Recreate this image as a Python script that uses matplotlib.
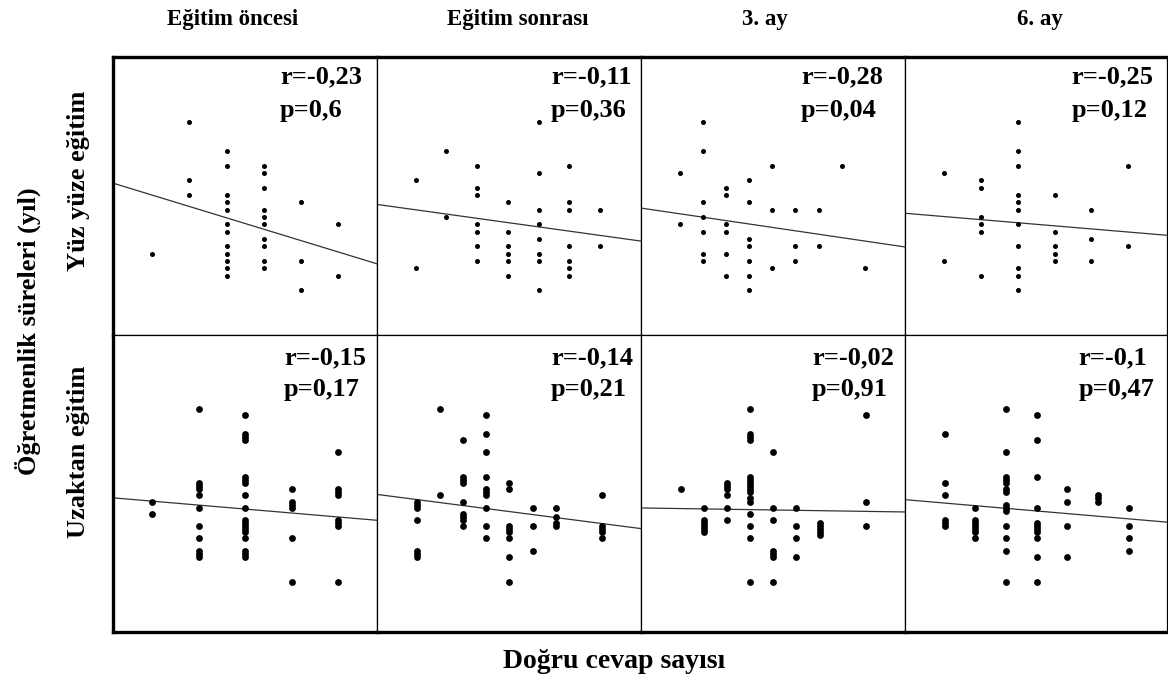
import numpy as np
import matplotlib
matplotlib.use("Agg")
import matplotlib.pyplot as plt

plt.rcParams["font.family"] = ["Liberation Serif", "DejaVu Serif"]
plt.rcParams["font.weight"] = "bold"

COL_TITLES = ["Eğitim öncesi", "Eğitim sonrası", "3. ay", "6. ay"]
ROW_TITLES = ["Yüz yüze eğitim", "Uzaktan eğitim"]
Y_LABEL = "Öğretmenlik süreleri (yıl)"
X_LABEL = "Doğru cevap sayısı"

# each panel: one list of y values per answer-count column (columns 1..n)
yuz_oncesi = [[7], [25, 17, 15], [21, 19, 15, 14, 13, 11, 10, 8, 7, 6, 5, 4],
              [19, 18, 16, 13, 12, 11, 9, 8, 6, 5], [14, 6, 2], [11, 4]]
yuz_sonrasi = [[17, 5], [21, 12], [19, 16, 15, 11, 10, 8, 6], [14, 10, 8, 7, 6, 4],
               [25, 18, 13, 11, 9, 7, 6, 2], [19, 14, 13, 8, 6, 5, 4], [13, 8]]
yuz_3ay = [[18, 11], [25, 21, 14, 12, 10, 7, 6], [16, 15, 11, 10, 7, 4],
           [17, 14, 9, 8, 6, 4, 2], [19, 13, 5], [13, 8, 6], [13, 8], [19], [5]]
yuz_6ay = [[18, 6], [17, 16, 12, 11, 10, 4], [25, 21, 19, 15, 14, 13, 11, 8, 5, 4, 2],
           [15, 10, 8, 7, 6], [13, 9, 6], [19, 8]]

uzak_oncesi = [[28, 24], [58, 34, 33, 32, 30, 26, 20, 16, 12, 11, 10],
               [56, 50, 49, 48, 36, 35, 34, 30, 26, 22, 21, 20, 19, 18, 16, 12, 11, 10],
               [32, 28, 27, 26, 16, 2], [44, 32, 31, 30, 22, 21, 20, 2]]
uzak_sonrasi = [[28, 27, 26, 22, 12, 11, 10], [58, 30], [48, 36, 35, 34, 28, 24, 23, 22, 20],
                [56, 50, 44, 36, 32, 31, 30, 26, 20, 16], [34, 32, 20, 19, 18, 16, 10, 2],
                [26, 20, 12], [26, 23, 21, 20], [], [30, 20, 19, 18, 16]]
uzak_3ay = [[32], [26, 22, 21, 20, 19, 18], [34, 33, 32, 30, 26, 22],
            [58, 50, 49, 48, 36, 35, 34, 33, 32, 31, 29, 28, 24, 20, 16, 2],
            [44, 26, 22, 12, 11, 10, 2], [26, 20, 16, 10], [21, 20, 19, 18, 17], [], [56, 28, 20]]
uzak_6ay = [[50, 34, 30, 22, 21, 20], [26, 22, 21, 20, 19, 18, 16],
            [58, 44, 36, 35, 34, 32, 31, 27, 26, 25, 20, 16, 12, 2],
            [56, 48, 36, 26, 21, 20, 19, 18, 16, 10, 2], [32, 28, 20, 10], [30, 29, 28],
            [26, 20, 16, 12]]

# fitted lines: (intercept, slope) in column units
fit_lines = [[(16.51, -1.547), (13.55, -0.582), (12.88, -0.463), (12.47, -0.422)],
             [(29.39, -1.283), (29.61, -0.975), (25.82, -0.114), (28.34, -0.854)]]
r_values = [["-0,23", "-0,11", "-0,28", "-0,25"], ["-0,15", "-0,14", "-0,02", "-0,1"]]
p_values = [["0,6", "0,36", "0,04", "0,12"], ["0,17", "0,21", "0,91", "0,47"]]

panels = [[yuz_oncesi, yuz_sonrasi, yuz_3ay, yuz_6ay],
          [uzak_oncesi, uzak_sonrasi, uzak_3ay, uzak_6ay]]

# layout (pixels of a 1168x686 canvas)
W, H = 1168, 686
COL_LEFT = [113, 377, 641, 905]
COL_W = [264, 264, 264, 262]
ROW_TOP = [57, 335]
ROW_H = [278, 297]
XLIMS = [[(-0.06, 7.05), (-0.26, 8.33), (-0.7, 10.75), (-0.06, 7.05)],
         [(0.15, 5.84), (-0.71, 10.68), (-0.73, 10.7), (-0.3, 8.25)]]
YLIMS = [(-4.1, 33.8), (-14.4, 82.1)]
DOT = [13, 24]
TXT_X = [[0.633, 0.659, 0.606, 0.635], [0.648, 0.659, 0.648, 0.662]]
TXT_Y = [(0.928, 0.809), (0.923, 0.815)]

fig = plt.figure(figsize=(W / 100, H / 100), dpi=100)

for r in range(2):
    for c in range(4):
        ax = fig.add_axes([COL_LEFT[c] / W, 1 - (ROW_TOP[r] + ROW_H[r]) / H,
                           COL_W[c] / W, ROW_H[r] / H])
        cols = panels[r][c]
        xs = np.concatenate([[i + 1] * len(v) for i, v in enumerate(cols)])
        ys = np.concatenate([v for v in cols if v])
        ax.scatter(xs, ys, s=DOT[r], color="black", linewidths=0, zorder=3)
        ax.set_xlim(*XLIMS[r][c])
        ax.set_ylim(*YLIMS[r])
        b0, b1 = fit_lines[r][c]
        lx = np.array(XLIMS[r][c])
        ax.plot(lx, b0 + b1 * lx, color="#333333", lw=0.9, zorder=2)
        ax.set_xticks([])
        ax.set_yticks([])
        for side in ("left", "right", "top", "bottom"):
            ax.spines[side].set_linewidth(0.9)
        if c == 0:
            ax.spines["left"].set_linewidth(2.4)
        if r == 0:
            ax.spines["top"].set_linewidth(2.4)
        else:
            ax.spines["bottom"].set_linewidth(2.4)
        ax.text(TXT_X[r][c], TXT_Y[r][0], f"r={r_values[r][c]}", transform=ax.transAxes,
                ha="left", va="center", fontsize=19, fontweight="bold")
        ax.text(TXT_X[r][c], TXT_Y[r][1], f"p={p_values[r][c]}", transform=ax.transAxes,
                ha="left", va="center", fontsize=19, fontweight="bold")

for c, x in enumerate([233, 518, 765, 1040]):
    fig.text(x / W, 1 - 19 / H, COL_TITLES[c], ha="center", va="center", fontsize=16.5,
             fontweight="bold")
for r, y in enumerate([181, 452]):
    fig.text(78 / W, 1 - y / H, ROW_TITLES[r], rotation=90, ha="center", va="center",
             fontsize=19, fontweight="bold")
fig.text(28 / W, 1 - 331 / H, Y_LABEL, rotation=90, ha="center", va="center",
         fontsize=19, fontweight="bold")
fig.text(614 / W, 1 - 662 / H, X_LABEL, ha="center", va="center", fontsize=20,
         fontweight="bold")

fig.savefig("out.png", dpi=100)
